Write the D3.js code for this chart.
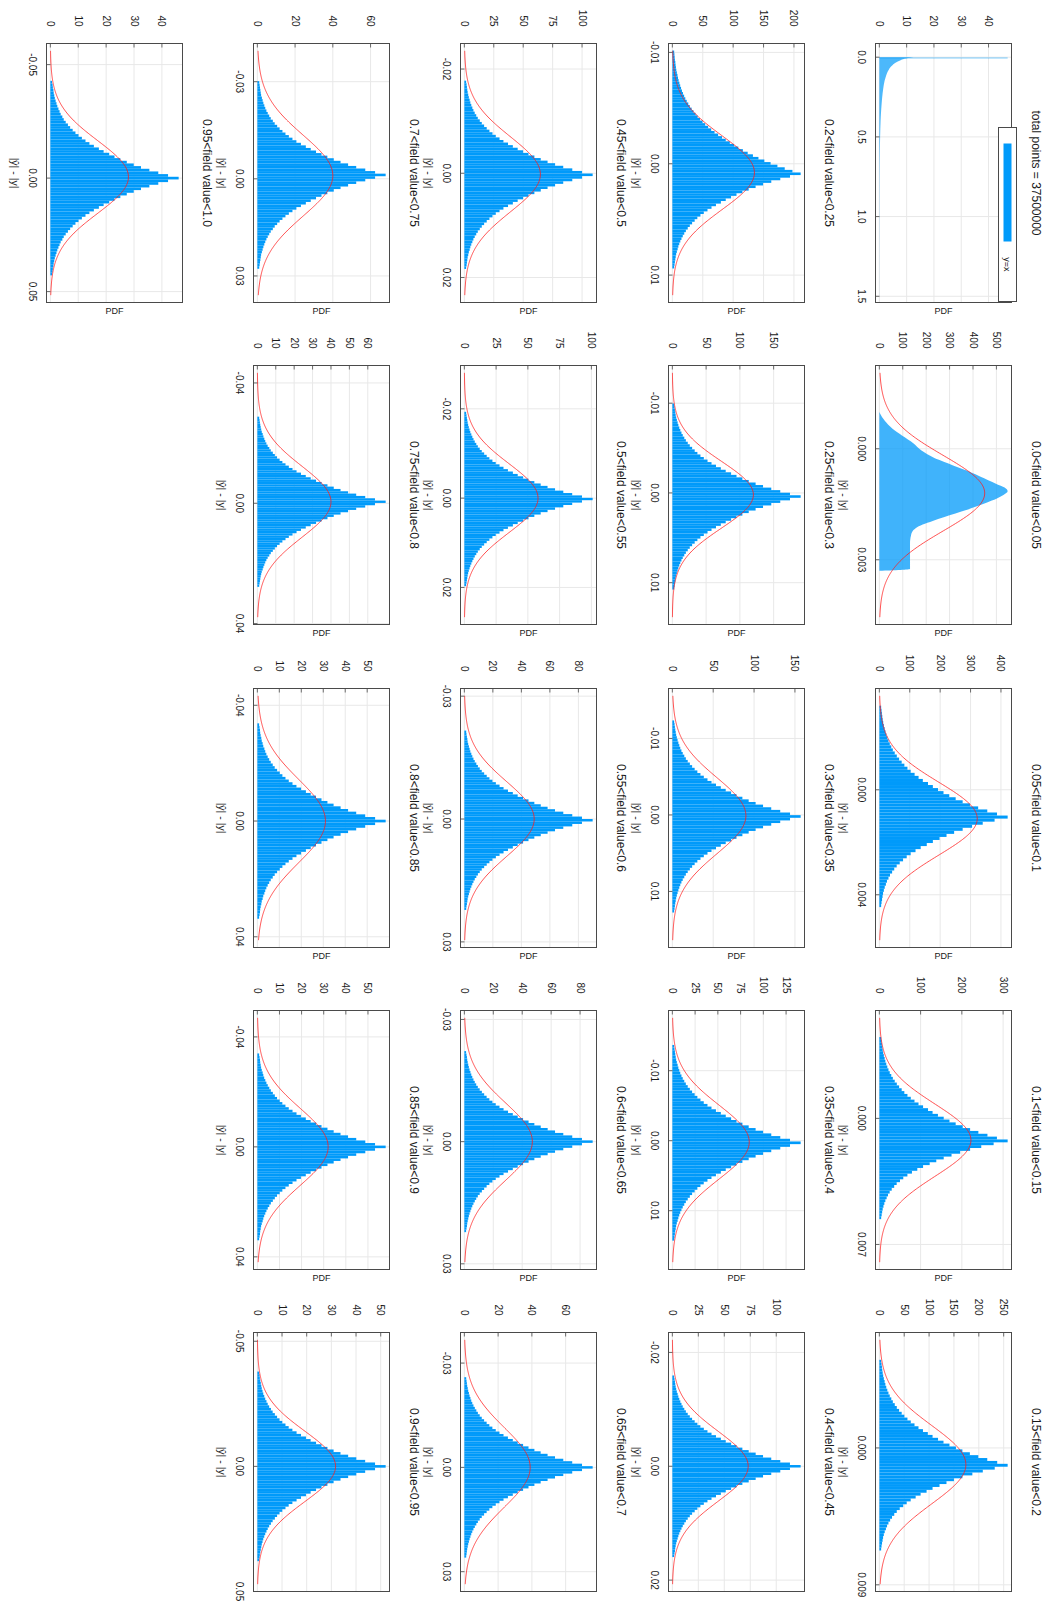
<!DOCTYPE html>
<html>
<head>
<meta charset="utf-8">
<script src="https://cdn.jsdelivr.net/npm/d3@7"></script>
<style>
  body { margin: 0; background: #fff; }
  svg text { font-family: "Liberation Sans", Arial, sans-serif; fill: #1a1a1a; }
</style>
</head>
<body>
<svg id="fig" width="1048" height="1602"></svg>
<script>
// ---------- panel titles, axis limits and ticks ----------
const titles = [
  "total points = 37500000",
  "0.0<field value<0.05", "0.05<field value<0.1", "0.1<field value<0.15", "0.15<field value<0.2",
  "0.2<field value<0.25", "0.25<field value<0.3", "0.3<field value<0.35", "0.35<field value<0.4", "0.4<field value<0.45",
  "0.45<field value<0.5", "0.5<field value<0.55", "0.55<field value<0.6", "0.6<field value<0.65", "0.65<field value<0.7",
  "0.7<field value<0.75", "0.75<field value<0.8", "0.8<field value<0.85", "0.85<field value<0.9", "0.9<field value<0.95",
  "0.95<field value<1.0"
];
const xLimits = [
  [-0.086, 1.539],
  [-0.00225, 0.00475], [-0.00386, 0.00601], [-0.00599, 0.00839], [-0.00759, 0.00944],
  [-0.0108, 0.01246], [-0.0142, 0.01466], [-0.01653, 0.01733], [-0.0186, 0.0184], [-0.0235, 0.022],
  [-0.0249, 0.0248], [-0.0297, 0.0283], [-0.03187, 0.03137], [-0.0322, 0.0314], [-0.0388, 0.0357],
  [-0.0418, 0.0382], [-0.0458, 0.0403], [-0.0458, 0.0437], [-0.0496, 0.0446], [-0.0535, 0.05],
  [-0.0593, 0.0548]
];
const xTicks = [
  [0, 0.5, 1, 1.5],
  [0, 0.003], [0, 0.004], [0, 0.007], [0, 0.009],
  [-0.01, 0, 0.01], [-0.01, 0, 0.01], [-0.01, 0, 0.01], [-0.01, 0, 0.01], [-0.02, 0, 0.02],
  [-0.02, 0, 0.02], [-0.02, 0, 0.02], [-0.03, 0, 0.03], [-0.03, 0, 0.03], [-0.03, 0, 0.03],
  [-0.03, 0, 0.03], [-0.04, 0, 0.04], [-0.04, 0, 0.04], [-0.04, 0, 0.04], [-0.05, 0, 0.05],
  [-0.05, 0, 0.05]
];
const xTickDigits = [1, 3, 3, 3, 3, 2, 2, 2, 2, 2, 2, 2, 2, 2, 2, 2, 2, 2, 2, 2, 2];
const yTicks = [
  [0, 10, 20, 30, 40],
  [0, 100, 200, 300, 400, 500], [0, 100, 200, 300, 400], [0, 100, 200, 300], [0, 50, 100, 150, 200, 250],
  [0, 50, 100, 150, 200], [0, 50, 100, 150], [0, 50, 100, 150], [0, 25, 50, 75, 100, 125], [0, 25, 50, 75, 100],
  [0, 25, 50, 75, 100], [0, 25, 50, 75, 100], [0, 20, 40, 60, 80], [0, 20, 40, 60, 80], [0, 20, 40, 60],
  [0, 20, 40, 60], [0, 10, 20, 30, 40, 50, 60], [0, 10, 20, 30, 40, 50], [0, 10, 20, 30, 40, 50], [0, 10, 20, 30, 40, 50],
  [0, 10, 20, 30, 40]
];

// ---------- all points: |ŷ| - |y| over the whole field ----------
const totalX   = [0, 0.005, 0.01, 0.02, 0.03, 0.04, 0.05, 0.06, 0.08, 0.1, 0.125, 0.15, 0.2, 0.25, 0.3, 0.35, 0.4, 0.5, 0.6, 0.7, 0.8, 1.0, 1.2, 1.5];
const totalPdf = [12.5, 10.5, 9.2, 7.6, 6.4, 5.5, 4.8, 4.2, 3.4, 2.8, 2.3, 1.9, 1.4, 1.05, 0.8, 0.6, 0.45, 0.28, 0.18, 0.12, 0.09, 0.06, 0.04, 0.02];
const spikeBin = [0, 0.002];
const spikePdf = 47;

// ---------- histograms per field-value band (PDF per bin) ----------
const f000_005 = [3,12,24,38,55,75,98,122,145,162,180,205,235,275,315,355,395,430,465,500,535,548,530,500,460,420,375,325,275,228,185,155,140,135,132,131,131,131,131,131,131,131,131];
const f005_010 = [5.9,7.2,8.4,9.7,11,12.7,14.8,17.3,19.8,22.8,26.2,30,34.2,39.2,44.3,50.6,57.4,65,73.4,82.3,92.4,103,116,129,143,160,176,193,211,230,251,274,298,325,355,387,
  422,
  379,340,305,274,246,221,198,176,156,136,119,103,90,78,67,57,49,42,35,30,25,21.5,17.7,14.8,12.2,10.6,8.9,7.2,5.9];
const f010_015 = [4.4,5.3,6.2,7.2,8.1,9.3,10.9,12.8,14.6,16.8,19.3,22.1,25.2,28.9,32.7,37.3,42.3,47.9,54.1,60.6,68.1,76.2,85.2,94.9,106,118,129,142,156,170,185,202,220,240,262,285,
  311,
  277,247,220,196,175,156,138,122,106,92,79,68,58,50,42,36,30,25,21,17.7,14.6,12.1,10,8.1,6.8,5.6,4.4];
const f015_020 = [3.6,4.4,5.2,5.9,6.7,7.7,9,10.6,12.1,13.9,16,18.3,20.9,24,27.1,31,35.1,39.7,44.9,50.3,56.5,63.2,70.7,78.7,87.7,97.5,107,118,129,141,154,167,182,199,217,237,
  258,
  232,208,187,167,150,135,121,107,95,83,73,63,55,48,41,35,30,25.5,21.7,18.3,15.5,13.2,10.8,9,7.5,6.5,5.4,4.4,3.6];
const f020_025 = [3.0,3.4,3.8,4.2,4.9,5.3,5.9,6.5,7.4,8.4,9.3,10.3,11.6,12.9,14.3,15.8,17.5,19.4,21.3,23.6,26.2,28.7,31.7,34.8,38.2,41.6,45.4,49.6,54,58.9,63.9,69.4,75.3,81.7,87.8,94.5,101.5,108.5,116,123.9,132.5,141.6,151.3,161.6,172.8,184.8,197.5,
  211,
  193.5,177.5,162.7,149.2,136.9,125.5,115.2,105.5,96.6,87.8,79.8,71.7,64.4,57.8,51.7,46.2,41.1,36.7,32.5,28.7,25.3,22.2,19.6,17.1,15,13.1,11.4,9.9,8.7,7.4,6.3,5.5,4.9,4.2,3.6,3.0];
const f025_030 = [2.7,3.2,3.8,4.4,4.9,5.7,6.7,7.8,8.9,10.3,11.8,13.5,15.4,17.7,20,22.8,25.8,29.3,33.1,37.1,41.6,46.6,52.1,58,64.6,71.8,79,87,95,103.7,113.1,123.3,134.3,146.5,159.8,174.2,
  190,
  174.2,159.8,146.5,134.3,123.3,113.1,103.7,95,87,79,71.8,64.6,58,52.1,46.6,41.6,37.1,33.1,29.3,25.8,22.8,20,17.7,15.4,13.5,11.8,10.3,8.9,7.8,6.7,5.7,4.9,4.4,3.8,3.2,2.7];
const f030_035 = [2.2,2.7,3.1,3.6,4.1,4.7,5.5,6.4,7.4,8.5,9.7,11.1,12.7,14.6,16.5,18.8,21.4,24.2,27.3,30.6,34.4,38.5,43,47.9,53.4,59.3,65.3,71.9,78.5,85.7,93.4,101.9,111,121,132,144,
  157,
  144,132,121,111,101.9,93.4,85.7,78.5,71.9,65.3,59.3,53.4,47.9,43,38.5,34.4,30.6,27.3,24.2,21.4,18.8,16.5,14.6,12.7,11.1,9.7,8.5,7.4,6.4,5.5,4.7,4.1,3.6,3.1,2.7,2.2];
const f035_040 = [2,2.4,2.8,3.2,3.7,4.2,4.9,5.8,6.6,7.6,8.7,10,11.4,13.1,14.8,16.9,19.2,21.7,24.5,27.5,30.9,34.5,38.6,43,47.9,53.3,58.7,64.6,70.5,77,83.9,91.5,99.7,108.7,118.6,129.3,
  141,
  129.3,118.6,108.7,99.7,91.5,83.9,77,70.5,64.6,58.7,53.3,47.9,43,38.6,34.5,30.9,27.5,24.5,21.7,19.2,16.9,14.8,13.1,11.4,10,8.7,7.6,6.6,5.8,4.9,4.2,3.7,3.2,2.8,2.4,2];
const f040_045 = [1.7,2.1,2.5,2.8,3.2,3.7,4.3,5.1,5.8,6.7,7.7,8.8,10,11.5,13,14.8,16.8,19,21.5,24.1,27,30.3,33.8,37.7,42,46.7,51.4,56.6,61.8,67.4,73.5,80.2,87.3,95.2,103.9,113.2,
  123.5,
  113.2,103.9,95.2,87.3,80.2,73.5,67.4,61.8,56.6,51.4,46.7,42,37.7,33.8,30.3,27,24.1,21.5,19,16.8,14.8,13,11.5,10,8.8,7.7,6.7,5.8,5.1,4.3,3.7,3.2,2.8,2.5,2.1,1.7];
const f045_050 = [1.5,1.9,2.2,2.5,2.8,3.3,3.8,4.5,5.1,5.9,6.8,7.7,8.8,10.1,11.4,13.1,14.8,16.8,19,21.3,23.9,26.7,29.9,33.2,37.1,41.2,45.3,49.9,54.5,59.5,64.9,70.7,77.1,84,91.7,100,
  109,
  100,91.7,84,77.1,70.7,64.9,59.5,54.5,49.9,45.3,41.2,37.1,33.2,29.9,26.7,23.9,21.3,19,16.8,14.8,13.1,11.4,10.1,8.8,7.7,6.8,5.9,5.1,4.5,3.8,3.3,2.8,2.5,2.2,1.9,1.5];
const f050_055 = [1.4,1.7,2,2.3,2.6,3,3.5,4.1,4.7,5.5,6.3,7.2,8.2,9.4,10.6,12.1,13.7,15.6,17.6,19.7,22.1,24.7,27.7,30.8,34.3,38.2,42,46.3,50.5,55.1,60.1,65.5,71.4,77.9,84.9,92.6,
  101,
  92.6,84.9,77.9,71.4,65.5,60.1,55.1,50.5,46.3,42,38.2,34.3,30.8,27.7,24.7,22.1,19.7,17.6,15.6,13.7,12.1,10.6,9.4,8.2,7.2,6.3,5.5,4.7,4.1,3.5,3,2.6,2.3,2,1.7,1.4];
const f055_060 = [1.3,1.5,1.8,2.1,2.3,2.7,3.2,3.7,4.2,4.9,5.6,6.4,7.3,8.4,9.5,10.8,12.2,13.9,15.7,17.6,19.7,22.1,24.7,27.5,30.6,34,37.4,41.2,45,49.1,53.6,58.4,63.6,69.4,75.7,82.5,
  90,
  82.5,75.7,69.4,63.6,58.4,53.6,49.1,45,41.2,37.4,34,30.6,27.5,24.7,22.1,19.7,17.6,15.7,13.9,12.2,10.8,9.5,8.4,7.3,6.4,5.6,4.9,4.2,3.7,3.2,2.7,2.3,2.1,1.8,1.5,1.3];
const f060_065 = [1.2,1.5,1.8,2,2.3,2.7,3.1,3.6,4.2,4.8,5.5,6.3,7.2,8.2,9.3,10.6,12.1,13.7,15.4,17.3,19.4,21.7,24.3,27.1,30.2,33.5,36.9,40.6,44.4,48.4,52.8,57.6,62.7,68.4,74.6,81.3,
  88.7,
  81.3,74.6,68.4,62.7,57.6,52.8,48.4,44.4,40.6,36.9,33.5,30.2,27.1,24.3,21.7,19.4,17.3,15.4,13.7,12.1,10.6,9.3,8.2,7.2,6.3,5.5,4.8,4.2,3.6,3.1,2.7,2.3,2,1.8,1.5,1.2];
const f065_070 = [1.1,1.3,1.5,1.7,2,2.3,2.7,3.1,3.6,4.1,4.7,5.4,6.2,7.1,8,9.1,10.3,11.7,13.2,14.8,16.6,18.6,20.8,23.2,25.8,28.7,31.6,34.8,38,41.5,45.2,49.3,53.7,58.6,63.9,69.7,
  76,
  69.7,63.9,58.6,53.7,49.3,45.2,41.5,38,34.8,31.6,28.7,25.8,23.2,20.8,18.6,16.6,14.8,13.2,11.7,10.3,9.1,8,7.1,6.2,5.4,4.7,4.1,3.6,3.1,2.7,2.3,2,1.7,1.5,1.3,1.1];
const f070_075 = [1,1.2,1.4,1.6,1.8,2,2.4,2.8,3.2,3.7,4.2,4.8,5.5,6.3,7.1,8.2,9.2,10.5,11.8,13.3,14.9,16.7,18.6,20.7,23.1,25.7,28.3,31.1,34,37.1,40.5,44.1,48.1,52.4,57.2,62.4,
  68,
  62.4,57.2,52.4,48.1,44.1,40.5,37.1,34,31.1,28.3,25.7,23.1,20.7,18.6,16.7,14.9,13.3,11.8,10.5,9.2,8.2,7.1,6.3,5.5,4.8,4.2,3.7,3.2,2.8,2.4,2,1.8,1.6,1.4,1.2,1];
const f075_080 = [1,1.2,1.4,1.6,1.8,2.1,2.4,2.9,3.3,3.8,4.3,4.9,5.6,6.5,7.3,8.4,9.5,10.7,12.1,13.6,15.3,17.1,19.1,21.3,23.7,26.3,29,31.9,34.9,38.1,41.5,45.2,49.3,53.7,58.6,63.9,
  69.7,
  63.9,58.6,53.7,49.3,45.2,41.5,38.1,34.9,31.9,29,26.3,23.7,21.3,19.1,17.1,15.3,13.6,12.1,10.7,9.5,8.4,7.3,6.5,5.6,4.9,4.3,3.8,3.3,2.9,2.4,2.1,1.8,1.6,1.4,1.2,1];
const f080_085 = [0.8,1,1.2,1.3,1.5,1.8,2,2.4,2.7,3.2,3.6,4.1,4.7,5.4,6.1,7,7.9,9,10.2,11.4,12.8,14.3,16,17.8,19.9,22.1,24.3,26.7,29.2,31.9,34.7,37.9,41.3,45,49.1,53.6,
  58.4,
  53.6,49.1,45,41.3,37.9,34.7,31.9,29.2,26.7,24.3,22.1,19.9,17.8,16,14.3,12.8,11.4,10.2,9,7.9,7,6.1,5.4,4.7,4.1,3.6,3.2,2.7,2.4,2,1.8,1.5,1.3,1.2,1,0.8];
const f085_090 = [0.8,1,1.2,1.3,1.5,1.7,2,2.4,2.7,3.1,3.6,4.1,4.7,5.4,6.1,7,7.9,8.9,10.1,11.3,12.7,14.2,15.9,17.7,19.7,21.9,24.1,26.6,29,31.7,34.5,37.6,41,44.7,48.8,53.2,
  58,
  53.2,48.8,44.7,41,37.6,34.5,31.7,29,26.6,24.1,21.9,19.7,17.7,15.9,14.2,12.7,11.3,10.1,8.9,7.9,7,6.1,5.4,4.7,4.1,3.6,3.1,2.7,2.4,2,1.7,1.5,1.3,1.2,1,0.8];
const f090_095 = [0.7,0.9,1,1.2,1.4,1.6,1.8,2.1,2.4,2.8,3.2,3.7,4.2,4.8,5.5,6.2,7.1,8,9,10.1,11.4,12.7,14.2,15.9,17.7,19.7,21.6,23.8,26,28.4,30.9,33.7,36.8,40.1,43.7,47.7,
  52,
  47.7,43.7,40.1,36.8,33.7,30.9,28.4,26,23.8,21.6,19.7,17.7,15.9,14.2,12.7,11.4,10.1,9,8,7.1,6.2,5.5,4.8,4.2,3.7,3.2,2.8,2.4,2.1,1.8,1.6,1.4,1.2,1,0.9,0.7];
const f095_100 = [0.6,0.8,0.9,1.1,1.2,1.4,1.6,1.9,2.2,2.5,2.9,3.3,3.7,4.3,4.8,5.5,6.3,7.1,8,9,10.1,11.3,12.6,14,15.6,17.4,19.1,21.1,23,25.1,27.4,29.9,32.5,35.5,38.7,42.2,
  46,
  42.2,38.7,35.5,32.5,29.9,27.4,25.1,23,21.1,19.1,17.4,15.6,14,12.6,11.3,10.1,9,8,7.1,6.3,5.5,4.8,4.3,3.7,3.3,2.9,2.5,2.2,1.9,1.6,1.4,1.2,1.1,0.9,0.8,0.6];

const histValues = [null,
  f000_005, f005_010, f010_015, f015_020,
  f020_025, f025_030, f030_035, f035_040, f040_045,
  f045_050, f050_055, f055_060, f060_065, f065_070,
  f070_075, f075_080, f080_085, f085_090, f090_095,
  f095_100];
// left edge of the first bin, and bin width, for every band
const binStart = [null,
  -0.001, -0.003205, -0.004517, -0.005795,
  -0.010168, -0.009966, -0.012356, -0.01368, -0.01595,
  -0.01777, -0.01933, -0.0216, -0.02223, -0.02595,
  -0.03018, -0.02879, -0.03376, -0.03398, -0.03789,
  -0.04285];
const binWidth = [null,
  0.0001, 0.0001163, 0.000158, 0.00019,
  0.000233, 0.000284, 0.000344, 0.000383, 0.000437,
  0.000495, 0.000535, 0.0006, 0.000609, 0.000711,
  0.000794, 0.000775, 0.000925, 0.000931, 0.001038,
  0.001174];

// ---------- fitted normal curves (mean, sigma, peak height) ----------
const fitMean  = [null, 0.0012, 0.0011, 0.00121, 0.0011, 0.0008, 0.0002, 0.0001, 0.0002, 0, 0.0002, 0, 0, 0, 0, -0.001, -0.0005, 0, 0, 0, -0.0005];
const fitSigma = [null, 0.00102, 0.00139, 0.00201, 0.00257, 0.00331, 0.00372, 0.00497, 0.00529, 0.00612, 0.0072, 0.00771, 0.00912, 0.00951, 0.01146, 0.0125, 0.0118, 0.0144, 0.014, 0.0141, 0.016];
const fitPeak  = [null, 450, 322, 222, 174, 135, 120, 90, 84.5, 73, 64.6, 58, 49, 47, 39, 40, 40, 31, 32, 31.7, 28];

// ---------- drawing ----------
const FIG_W = 1048;
const BAR = "#009AFA";
const FRAME = "#4a4a4a";
const GRID = "#e8e8e8";
const PW = 259, PH = 136;

const svg = d3.select("#fig");
// the figure is laid out landscape and turned a quarter turn clockwise onto the page
const root = svg.append("g").attr("transform", `translate(${FIG_W},0) rotate(90)`);

titles.forEach((title, i) => {
  const r = Math.floor(i / 5), c = i % 5;
  const X0 = Math.round(43 + c * 322.3) + 0.5;
  const Y0 = Math.round(36 + r * 207.25) + 0.5;
  const g = root.append("g");

  const vals = i === 0 ? totalPdf.concat([spikePdf]) : histValues[i];
  const vmax = d3.max(vals);
  const x = d3.scaleLinear().domain(xLimits[i]).range([X0, X0 + PW]);
  const y = d3.scaleLinear().domain([-0.03 * vmax, 1.03 * vmax]).range([Y0 + PH, Y0]);

  // grid
  g.append("g").selectAll("line").data(xTicks[i]).join("line")
    .attr("x1", d => x(d)).attr("x2", d => x(d)).attr("y1", Y0).attr("y2", Y0 + PH)
    .attr("stroke", GRID).attr("stroke-width", 1);
  g.append("g").selectAll("line").data(yTicks[i]).join("line")
    .attr("y1", d => y(d)).attr("y2", d => y(d)).attr("x1", X0).attr("x2", X0 + PW)
    .attr("stroke", GRID).attr("stroke-width", 1);

  if (i === 0) {
    const area = d3.area().x(d => x(d[0])).y0(y(0)).y1(d => y(d[1])).curve(d3.curveMonotoneX);
    g.append("path").datum(d3.zip(totalX, totalPdf)).attr("d", area)
      .attr("fill", BAR).attr("fill-opacity", 0.7);
    g.append("rect")
      .attr("x", x(spikeBin[0]))
      .attr("width", Math.max(1.5, x(spikeBin[1]) - x(spikeBin[0])))
      .attr("y", y(spikePdf)).attr("height", y(0) - y(spikePdf))
      .attr("fill", BAR).attr("fill-opacity", 0.35);
  } else if (i === 1) {
    const w = binWidth[i], s = binStart[i];
    const pts = [[s, 0]].concat(vals.map((v, k) => [s + (k + 0.5) * w, v]), [[s + vals.length * w, 0]]);
    const area = d3.area().x(d => x(d[0])).y0(y(0)).y1(d => y(d[1])).curve(d3.curveMonotoneX);
    g.append("path").datum(pts).attr("d", area).attr("fill", BAR).attr("fill-opacity", 0.75);
  } else {
    const w = binWidth[i], s = binStart[i];
    const bw = x(s + w) - x(s);
    g.append("g").selectAll("rect").data(vals).join("rect")
      .attr("x", (v, k) => x(s + k * w))
      .attr("width", bw)
      .attr("y", v => y(v))
      .attr("height", v => y(0) - y(v))
      .attr("fill", BAR);
  }

  // fitted normal curve
  if (i > 0) {
    const [lo, hi] = xLimits[i];
    const pad = (hi - lo) * 0.03 / 1.06;
    const xs = d3.range(241).map(k => lo + pad + (hi - lo - 2 * pad) * k / 240);
    const mu = fitMean[i], sg = fitSigma[i], pk = fitPeak[i];
    const line = d3.line().x(d => x(d)).y(d => y(pk * Math.exp(-((d - mu) ** 2) / (2 * sg * sg))));
    g.append("path").datum(xs).attr("d", line)
      .attr("fill", "none").attr("stroke", "#ff1a1a").attr("stroke-width", 0.9).attr("stroke-opacity", 0.85);
  }

  // frame
  g.append("rect").attr("x", X0).attr("y", Y0).attr("width", PW).attr("height", PH)
    .attr("fill", "none").attr("stroke", FRAME).attr("stroke-width", 1);

  // tick marks
  g.append("g").selectAll("line").data(xTicks[i]).join("line")
    .attr("x1", d => x(d)).attr("x2", d => x(d)).attr("y1", Y0 + PH).attr("y2", Y0 + PH - 4)
    .attr("stroke", FRAME).attr("stroke-width", 0.8);
  g.append("g").selectAll("line").data(yTicks[i]).join("line")
    .attr("y1", d => y(d)).attr("y2", d => y(d)).attr("x1", X0).attr("x2", X0 + 4)
    .attr("stroke", FRAME).attr("stroke-width", 0.8);

  // tick labels
  g.append("g").selectAll("text").data(xTicks[i]).join("text")
    .attr("x", d => x(d)).attr("y", Y0 + PH + 18)
    .attr("text-anchor", "middle").attr("font-size", 10)
    .text(d => d.toFixed(xTickDigits[i]));
  g.append("g").selectAll("text").data(yTicks[i]).join("text")
    .attr("x", X0 - 17).attr("y", d => y(d)).attr("dy", "0.35em")
    .attr("text-anchor", "end").attr("font-size", 10)
    .text(d => d);

  // titles and axis labels
  g.append("text").attr("x", X0 + PW / 2).attr("y", Y0 - 20)
    .attr("text-anchor", "middle").attr("font-size", 12).text(title);
  if (i > 0) {
    g.append("text").attr("x", X0 + PW / 2).attr("y", Y0 + PH + 35.5)
      .attr("text-anchor", "middle").attr("font-size", 10.5).text("|ŷ| - |y|");
  }
  // the last column's PDF label would fall past the page edge
  if (c < 4) {
    g.append("text")
      .attr("transform", `translate(${X0 + PW + 8},${Y0 + PH / 2}) rotate(-90)`)
      .attr("text-anchor", "middle").attr("dy", "0.35em").attr("font-size", 9).text("PDF");
  }

  // legend on the overview panel
  if (i === 0) {
    const lg = g.append("g");
    lg.append("rect").attr("x", X0 + 84).attr("y", Y0 - 5).attr("width", 174).attr("height", 18)
      .attr("fill", "#fff").attr("stroke", FRAME).attr("stroke-width", 1);
    lg.append("rect").attr("x", X0 + 100).attr("y", Y0).attr("width", 98).attr("height", 8).attr("fill", BAR);
    lg.append("text").attr("x", X0 + 221).attr("y", Y0 + 4).attr("dy", "0.35em")
      .attr("text-anchor", "middle").attr("font-size", 9).text("y=x");
  }
});
</script>
</body>
</html>
